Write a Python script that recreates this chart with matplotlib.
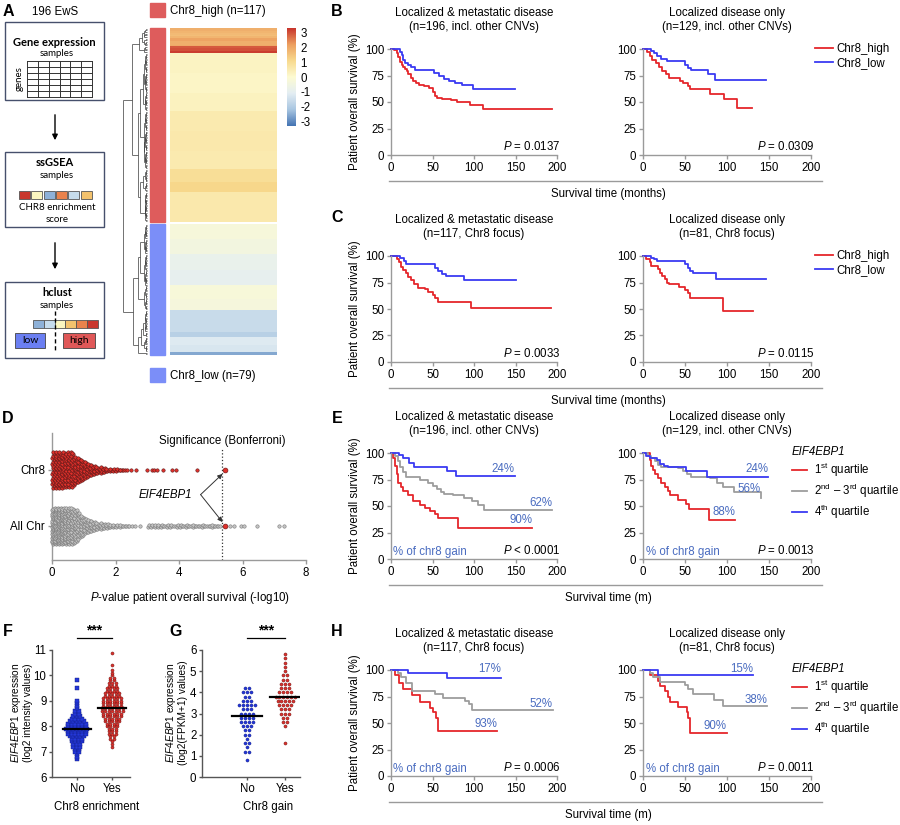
import numpy as np
import matplotlib
matplotlib.use("Agg")
import matplotlib.pyplot as plt
from matplotlib.lines import Line2D
from matplotlib.patches import Rectangle
from matplotlib.collections import LineCollection
from matplotlib.colors import LinearSegmentedColormap, Normalize

plt.rcParams['font.family'] = ['Liberation Sans', 'DejaVu Sans']
plt.rcParams['mathtext.fontset'] = 'custom'
plt.rcParams['mathtext.rm'] = 'Liberation Sans'
plt.rcParams['mathtext.it'] = 'Liberation Sans:italic'
plt.rcParams['mathtext.bf'] = 'Liberation Sans:bold'
plt.rcParams['font.size'] = 8.3

# ---------------- data ----------------
# A: chr8 enrichment score per sample (top -> bottom), read as bands from the heatmap
high_top_rows = [1.9, 1.9, 1.8, 1.7, 1.6, 1.8, 2.1, 2.1, 1.9, 1.9, 2.0, 2.9, 3.0, 3.0, 3.2]
high_band_values = [0.25, 0.2, 0.3, 0.55, 0.6, 0.55, 0.95, 1.15, 0.6]
high_band_sizes = [12, 12, 11, 12, 12, 11, 8, 6, 18]
low_band_values = [-0.3, -0.45, -0.85, -0.95, -0.25, -0.35, -1.6, -1.9, -1.2, -1.3, -2.6]
low_band_sizes = [9, 9, 10, 9, 8, 7, 13, 3, 5, 4, 2]
cbar_ticks = [3, 2, 1, 0, -1, -2, -3]

# B: Kaplan-Meier, all chr (event time, survival after event)
b1_high_t = [0, 4, 7, 9, 11, 13, 15, 17, 19, 21, 24, 27, 30, 34, 40, 46, 50, 53, 56, 62, 72, 79, 95, 111, 194]
b1_high_s = [100, 99, 96, 92, 88, 85, 83, 81, 79, 76, 73, 70, 68, 66, 65, 63, 59, 56, 54, 53, 52, 50, 47, 43, 43]
b1_low_t = [0, 11, 13, 15, 17, 20, 24, 29, 47, 52, 58, 64, 70, 77, 86, 99, 149]
b1_low_s = [100, 97, 94, 90, 87, 85, 83, 80, 80, 77, 75, 72, 70, 68, 66, 62, 62]
b2_high_t = [0, 5, 8, 11, 15, 19, 23, 27, 31, 44, 48, 53, 56, 80, 96, 112, 130]
b2_high_s = [100, 97, 93, 90, 87, 83, 79, 76, 73, 70, 68, 65, 62, 58, 53, 44, 44]
b2_low_t = [0, 9, 13, 17, 21, 28, 50, 53, 57, 77, 86, 147]
b2_low_s = [100, 98, 96, 93, 91, 89, 85, 82, 80, 76, 71, 71]
# C: Kaplan-Meier, chr8 focus
c1_high_t = [0, 7, 10, 12, 15, 18, 21, 24, 28, 33, 41, 45, 50, 53, 57, 96, 193]
c1_high_s = [100, 97, 94, 90, 87, 84, 80, 77, 74, 70, 69, 66, 63, 60, 57, 51, 51]
c1_low_t = [0, 11, 16, 18, 50, 53, 57, 61, 66, 88, 150]
c1_low_s = [100, 98, 95, 92, 92, 89, 86, 83, 81, 77, 77]
c2_high_t = [0, 4, 8, 10, 18, 20, 23, 26, 29, 31, 43, 50, 53, 56, 95, 131]
c2_high_s = [100, 97, 94, 91, 88, 84, 81, 78, 75, 74, 71, 68, 65, 60, 48, 48]
c2_low_t = [0, 10, 13, 17, 50, 53, 56, 59, 87, 147]
c2_low_s = [100, 98, 97, 95, 92, 89, 86, 84, 78, 78]
# E: EIF4EBP1 quartiles, all chr
e1_q1_t = [0, 3, 5, 7, 9, 12, 15, 20, 27, 35, 41, 47, 53, 57, 81, 170]
e1_q1_s = [100, 95, 88, 80, 72, 68, 64, 60, 55, 51, 48, 45, 42, 39, 29, 29]
e1_q23_t = [0, 5, 8, 11, 14, 18, 35, 45, 50, 55, 60, 64, 75, 88, 98, 105, 112, 194]
e1_q23_s = [100, 97, 92, 87, 82, 77, 75, 72, 69, 66, 63, 61, 60, 58, 55, 51, 46, 46]
e1_q4_t = [0, 10, 15, 22, 28, 53, 67, 78, 149]
e1_q4_s = [100, 98, 95, 91, 87, 87, 83, 78, 78]
e2_q1_t = [0, 8, 10, 12, 14, 18, 22, 26, 30, 32, 42, 51, 55, 79, 110]
e2_q1_s = [100, 93, 88, 84, 80, 76, 72, 68, 64, 60, 56, 52, 47, 37, 37]
e2_q23_t = [0, 6, 10, 14, 18, 22, 42, 48, 52, 57, 80, 88, 95, 108, 140]
e2_q23_s = [100, 97, 95, 92, 89, 87, 86, 83, 80, 77, 76, 72, 68, 63, 58]
e2_q4_t = [0, 4, 8, 17, 20, 25, 30, 51, 76, 149]
e2_q4_s = [100, 97, 95, 93, 90, 88, 87, 83, 77, 77]
# H: EIF4EBP1 quartiles, chr8 focus
h1_q1_t = [0, 5, 10, 15, 25, 35, 47, 50, 54, 57, 128]
h1_q1_s = [100, 95, 88, 82, 76, 70, 64, 60, 55, 42, 42]
h1_q23_t = [0, 8, 12, 18, 25, 53, 63, 89, 94, 98, 195]
h1_q23_s = [100, 97, 93, 88, 80, 77, 74, 71, 68, 62, 62]
h1_q4_t = [0, 20, 67, 133]
h1_q4_s = [100, 97, 92, 92]
h2_q1_t = [0, 8, 18, 20, 26, 30, 32, 42, 52, 54, 56, 100]
h2_q1_s = [100, 95, 90, 85, 80, 75, 70, 65, 60, 55, 41, 41]
h2_q23_t = [0, 8, 12, 20, 50, 54, 60, 85, 95, 148]
h2_q23_s = [100, 97, 93, 89, 86, 82, 77, 72, 66, 66]
h2_q4_t = [0, 18, 131]
h2_q4_s = [100, 95, 95]
# % of chr8 gain per quartile (q1, q2-3, q4)
e1_pct = ['90%', '62%', '24%']
e2_pct = ['88%', '56%', '24%']
h1_pct = ['93%', '52%', '17%']
h2_pct = ['90%', '38%', '15%']
e1_pct_y = [37, 53, 85]
e2_pct_y = [44, 66, 85]
h1_pct_y = [49, 68, 101]
h2_pct_y = [47.5, 72, 101]

# D: -log10 P distribution (counts per 0.1 bin, plus isolated genes)
chr8_bin_left = np.round(np.arange(0, 2.3, 0.1), 1)
chr8_counts = [30, 30, 30, 29, 28, 28, 27, 22, 20, 17, 14, 11, 9, 8, 7, 6, 5, 4, 4, 3, 3, 2, 2]
chr8_singles = [2.14, 2.35, 2.5, 2.66, 2.98, 3.14, 3.2, 3.3, 3.51, 3.77, 3.92, 4.56]
allchr_bin_left = np.round(np.arange(0, 5.3, 0.1), 1)
allchr_counts = [70, 65, 60, 55, 48, 40, 33,
                 26, 21, 17, 13, 11, 9, 8, 7, 6, 5, 5, 4, 4,
                 3, 3, 2, 2,
                 0, 0, 0, 0, 0, 0,
                 3, 3, 3, 3, 3, 2, 3, 3, 2, 3, 3, 2, 3, 2, 3, 2, 2, 3, 2, 2, 3, 2, 2]
allchr_singles = [2.42, 2.52, 2.62, 2.78, 5.62, 5.72, 5.95, 6.05, 6.45, 7.15, 7.3]
eif4ebp1_p = 5.45
bonferroni = 5.35

# F: EIF4EBP1 expression (log2 intensity), counts per 0.1 level
f_no_levels = np.round(np.arange(6.7, 9.85, 0.1), 1)
f_no_counts = [1, 1, 1, 2, 2, 3, 3, 4, 4, 5, 6, 6, 7, 6, 6, 5, 4, 3, 2, 2, 1, 1, 1, 1, 0, 0, 0, 0, 1, 0, 0, 1]
f_yes_levels = np.round(np.arange(7.2, 10.95, 0.1), 1)
f_yes_counts = [1, 1, 1, 2, 2, 3, 3, 3, 4, 4, 5, 5, 6, 6, 7, 7, 6, 6, 6, 6, 5, 5, 4, 4, 3, 3, 2, 2,
                1, 1, 1, 0, 1, 0, 0, 0, 0, 1]
# G: EIF4EBP1 expression (log2(FPKM+1)), counts per 0.2 level
g_no_levels = [0.8, 1.0, 1.2, 1.4, 1.6, 1.8, 2.0, 2.2, 2.4, 2.6, 2.8, 3.0, 3.2, 3.4, 3.6, 3.8, 4.0, 4.2]
g_no_counts = [1, 0, 2, 1, 2, 1, 2, 2, 3, 4, 4, 4, 3, 5, 3, 2, 3, 2]
g_yes_levels = [1.6, 2.4, 2.6, 2.8, 3.0, 3.2, 3.4, 3.6, 3.8, 4.0, 4.2, 4.4, 4.6, 4.8, 5.0, 5.2, 5.4, 5.6, 5.8]
g_yes_counts = [1, 1, 2, 2, 3, 3, 4, 5, 6, 4, 3, 3, 2, 2, 1, 1, 1, 1, 1]

# ---------------- helpers ----------------
W, H = 900, 825
fig = plt.figure(figsize=(9, 8.25), dpi=100)

RED, BLUE, GRAY = '#e5262b', '#3a3af2', '#9d9d9d'
PCT = '#4a6cc0'
SPINE = '#9a9a9a'


def px_axes(x0, y0, x1, y1):
    return fig.add_axes([x0 / W, 1 - y1 / H, (x1 - x0) / W, (y1 - y0) / H])


def ftext(x, y, s, **kw):
    kw.setdefault('ha', 'center')
    kw.setdefault('va', 'center')
    return fig.text(x / W, 1 - y / H, s, **kw)


def hline(x0, x1, y, **kw):
    fig.add_artist(Line2D([x0 / W, x1 / W], [1 - y / H] * 2, **kw))


def style_ax(ax, col=SPINE, length=3, pad=2):
    for side in ('top', 'right'):
        ax.spines[side].set_visible(False)
    for side in ('left', 'bottom'):
        ax.spines[side].set_color(col)
        ax.spines[side].set_linewidth(1)
    ax.tick_params(direction='out', length=length, width=1, color=col, labelsize=8.3, pad=pad)


ov = fig.add_axes([0, 0, 1, 1])
ov.set_xlim(0, W)
ov.set_ylim(H, 0)
ov.axis('off')

# ---------------- panel labels ----------------
for lab, x, y in [('A', 8, 12), ('B', 337, 12), ('C', 337, 218), ('D', 8, 418), ('E', 337, 418),
                  ('F', 8, 632), ('G', 176, 632), ('H', 337, 632)]:
    ftext(x, y, lab, fontsize=11.5, fontweight='bold')
ftext(32, 12, '196 EwS', ha='left', fontsize=8.3)

# ---------------- A: workflow boxes ----------------
BOXF = 'Lato'
box_ec = '#46506c'
for y0, y1 in [(22, 100), (152, 227), (282, 358)]:
    ov.add_patch(Rectangle((5, y0), 99, y1 - y0, fill=False, ec=box_ec, lw=1))
ov.text(54, 42, 'Gene expression', ha='center', va='center', fontsize=8, fontweight='bold', family=BOXF)
ov.text(57, 54, 'samples', ha='center', va='center', fontsize=7, family=BOXF)
for k in range(7):
    ov.plot([27 + k * 65 / 6] * 2, [61, 97], color='#333', lw=0.7)
    ov.plot([27, 92], [61 + k * 36 / 6] * 2, color='#333', lw=0.7)
ov.text(19, 79, 'genes', rotation=90, ha='center', va='center', fontsize=7, family=BOXF)
ov.text(55, 163, 'ssGSEA', ha='center', va='center', fontsize=8, fontweight='bold', family=BOXF)
ov.text(57, 176, 'samples', ha='center', va='center', fontsize=7, family=BOXF)
for k, c in enumerate(['#c8372d', '#fbf6c0', '#8eb1d8', '#e9824c', '#c6dced', '#f3c26d']):
    ov.add_patch(Rectangle((19 + k * 12.3, 191), 11, 8, fc=c, ec='#555', lw=0.6))
ov.text(57, 208, 'CHR8 enrichment', ha='center', va='center', fontsize=7, family=BOXF)
ov.text(57, 220, 'score', ha='center', va='center', fontsize=7, family=BOXF)
ov.text(57, 293, 'hclust', ha='center', va='center', fontsize=8, fontweight='bold', family=BOXF)
ov.text(57, 305, 'samples', ha='center', va='center', fontsize=7, family=BOXF)
for k, c in enumerate(['#8eb1d8', '#c6dced', '#fbf6c0', '#f3c26d', '#e9824c', '#c8372d']):
    ov.add_patch(Rectangle((33 + k * 10.8, 320), 10.8, 8, fc=c, ec='#555', lw=0.6))
ov.plot([55, 55], [311, 352], color='k', lw=1, ls=(0, (3, 2)))
ov.add_patch(Rectangle((15, 333), 30, 15, fc='#6b7ff2', ec='#444', lw=0.6))
ov.text(30, 340.5, 'low', ha='center', va='center', fontsize=7.5, family=BOXF)
ov.add_patch(Rectangle((63, 333), 32, 15, fc='#e05858', ec='#444', lw=0.6))
ov.text(79, 340.5, 'high', ha='center', va='center', fontsize=7.5, family=BOXF)
for y0, y1 in [(112, 143), (240, 272)]:
    ov.annotate('', xy=(55, y1), xytext=(55, y0),
                arrowprops=dict(arrowstyle='-|>', color='k', lw=1, mutation_scale=8))

# ---------------- A: heatmap + dendrogram ----------------
high_scores = np.concatenate([high_top_rows, np.repeat(high_band_values, high_band_sizes)])
low_scores = np.repeat(low_band_values, low_band_sizes)
cmap = LinearSegmentedColormap.from_list('chr8', [(0, '#4575b4'), (1 / 6, '#a9c6e1'), (2 / 6, '#e4eef3'),
                                                  (3 / 6, '#fdfbd2'), (4 / 6, '#f8da8e'),
                                                  (5 / 6, '#eda060'), (1, '#c8352c')])
norm = Normalize(-3.3, 3.3)
for scores, (y0, y1) in [(high_scores, (28, 222)), (low_scores, (224, 355))]:
    axh = px_axes(170, y0, 277, y1)
    axh.imshow(scores[:, None], aspect='auto', cmap=cmap, norm=norm, interpolation='nearest')
    axh.axis('off')

ov.add_patch(Rectangle((150, 28), 15, 194, color='#de5c5c'))
ov.add_patch(Rectangle((150, 224), 15, 131, color='#7b8ef8'))
ov.add_patch(Rectangle((150, 3), 15, 14, color='#de5c5c'))
ov.add_patch(Rectangle((150, 368), 15, 14, color='#7b8ef8'))
ftext(170, 11, 'Chr8_high (n=117)', ha='left', fontsize=8.3)
ftext(170, 376, 'Chr8_low (n=79)', ha='left', fontsize=8.3)

axcb = px_axes(287, 28, 296, 126)
axcb.imshow(np.linspace(3.3, -3.3, 200)[:, None], aspect='auto', cmap=cmap, norm=norm,
            extent=[0, 1, -3.3, 3.3])
axcb.set_xticks([])
axcb.yaxis.tick_right()
axcb.set_yticks(cbar_ticks)
axcb.set_yticklabels([str(v) for v in cbar_ticks])
axcb.tick_params(length=0, labelsize=8.3, pad=3)
for s in axcb.spines.values():
    s.set_visible(False)


def adjacent_tree(vals, ypos):
    nodes = [[y, 0.0, 1, v] for y, v in zip(ypos, vals)]
    segs = []
    while len(nodes) > 1:
        hs = []
        for a, b in zip(nodes[:-1], nodes[1:]):
            d = abs(a[3] - b[3]) * np.sqrt(2 * a[2] * b[2] / (a[2] + b[2]))
            hs.append(max(a[1], b[1]) + d + 0.05)
        i = int(np.argmin(hs))
        h = hs[i]
        a, b = nodes[i], nodes[i + 1]
        segs += [[(a[1], a[0]), (h, a[0])], [(b[1], b[0]), (h, b[0])], [(h, a[0]), (h, b[0])]]
        n = a[2] + b[2]
        nodes[i:i + 2] = [[(a[0] + b[0]) / 2, h, n, (a[3] * a[2] + b[3] * b[2]) / n]]
    return nodes[0], segs


y_high = 28 + (np.arange(len(high_scores)) + 0.5) * 194 / len(high_scores)
y_low = 224 + (np.arange(len(low_scores)) + 0.5) * 131 / len(low_scores)
rh, seg_h = adjacent_tree(high_scores, y_high)
rl, seg_l = adjacent_tree(low_scores, y_low)
n_tot = rh[2] + rl[2]
root_h = max(rh[1], rl[1]) + abs(rh[3] - rl[3]) * np.sqrt(2 * rh[2] * rl[2] / n_tot) + 4
segs = seg_h + seg_l + [[(rh[1], rh[0]), (root_h, rh[0])], [(rl[1], rl[0]), (root_h, rl[0])],
                        [(root_h, rh[0]), (root_h, rl[0])]]
segs_px = [[(147 - 24 * np.sqrt(h / root_h), y) for h, y in s] for s in segs]
ov.add_collection(LineCollection(segs_px, colors='#3a3a3a', linewidths=0.5))

# ---------------- B, C, E, H: Kaplan-Meier ----------------
def km(rect, curves, ptext):
    ax = px_axes(*rect)
    for t, s, c, lab in curves:
        ax.step(t, s, where='post', color=c, lw=1.3, label=lab, clip_on=False)
    ax.set_xlim(0, 200)
    ax.set_ylim(0, 100)
    ax.set_xticks([0, 50, 100, 150, 200])
    ax.set_yticks([0, 25, 50, 75, 100])
    style_ax(ax)
    ax.text(204, 8, ptext, ha='right', va='center', fontsize=8.3)
    return ax


def pct_labels(ax, curves, pcts, ys):
    for (t, s, c, lab), p, y in zip(curves, pcts, ys):
        ax.text(t[-1], y, p, ha='right', va='center', color=PCT, fontsize=8.3)
    ax.text(3, 7, '% of chr8 gain', ha='left', va='center', color=PCT, fontsize=8.3)


title_all = 'Localized & metastatic disease\n'
title_loc = 'Localized disease only\n'
rows = [
    (0, '(n=196, incl. other CNVs)', '(n=129, incl. other CNVs)', 'Survival time (months)'),
    (207, '(n=117, Chr8 focus)', '(n=81, Chr8 focus)', 'Survival time (months)'),
    (404, '(n=196, incl. other CNVs)', '(n=129, incl. other CNVs)', 'Survival time (m)'),
    (621, '(n=117, Chr8 focus)', '(n=81, Chr8 focus)', 'Survival time (m)'),
]
q_labels = ['1$^{\\mathrm{st}}$ quartile', '2$^{\\mathrm{nd}}$ \u2013 3$^{\\mathrm{rd}}$ quartile',
            '4$^{\\mathrm{th}}$ quartile']
km_sets = [
    ([(b1_high_t, b1_high_s, RED, 'Chr8_high'), (b1_low_t, b1_low_s, BLUE, 'Chr8_low')],
     [(b2_high_t, b2_high_s, RED, 'Chr8_high'), (b2_low_t, b2_low_s, BLUE, 'Chr8_low')],
     '0.0137', '0.0309', None),
    ([(c1_high_t, c1_high_s, RED, 'Chr8_high'), (c1_low_t, c1_low_s, BLUE, 'Chr8_low')],
     [(c2_high_t, c2_high_s, RED, 'Chr8_high'), (c2_low_t, c2_low_s, BLUE, 'Chr8_low')],
     '0.0033', '0.0115', None),
    ([(e1_q1_t, e1_q1_s, RED, q_labels[0]), (e1_q23_t, e1_q23_s, GRAY, q_labels[1]),
      (e1_q4_t, e1_q4_s, BLUE, q_labels[2])],
     [(e2_q1_t, e2_q1_s, RED, q_labels[0]), (e2_q23_t, e2_q23_s, GRAY, q_labels[1]),
      (e2_q4_t, e2_q4_s, BLUE, q_labels[2])],
     '< 0.0001', '0.0013', ((e1_pct, e1_pct_y), (e2_pct, e2_pct_y))),
    ([(h1_q1_t, h1_q1_s, RED, q_labels[0]), (h1_q23_t, h1_q23_s, GRAY, q_labels[1]),
      (h1_q4_t, h1_q4_s, BLUE, q_labels[2])],
     [(h2_q1_t, h2_q1_s, RED, q_labels[0]), (h2_q23_t, h2_q23_s, GRAY, q_labels[1]),
      (h2_q4_t, h2_q4_s, BLUE, q_labels[2])],
     '0.0006', '0.0011', ((h1_pct, h1_pct_y), (h2_pct, h2_pct_y))),
]
for (off, sub_l, sub_r, xlab), (cl, cr, pl, pr, pcts) in zip(rows, km_sets):
    fmt = lambda p: '$\\mathit{P}$ < 0.0001' if p.startswith('<') else '$\\mathit{P}$ = ' + p
    axl = km((391, 49 + off, 557, 155 + off), cl, fmt(pl))
    axr = km((643, 49 + off, 811, 155 + off), cr, fmt(pr))
    ftext(474, 20 + off, title_all + sub_l, linespacing=1.25)
    ftext(727, 20 + off, title_loc + sub_r, linespacing=1.25)
    ftext(355, 102 + off, 'Patient overall survival (%)', rotation=90)
    hline(389, 822, 181 + off, color=SPINE, lw=1)
    ftext(608, 194 + off, xlab)
    if pcts is None:
        axr.legend(loc='upper left', bbox_to_anchor=(815 / W, 1 - (43 + off) / H),
                   bbox_transform=fig.transFigure, frameon=False, fontsize=8.3,
                   handlelength=1.6, handletextpad=0.25, labelspacing=0.2, borderpad=0, borderaxespad=0)
    else:
        pct_labels(axl, cl, *pcts[0])
        pct_labels(axr, cr, *pcts[1])
        axr.legend(loc='upper left', bbox_to_anchor=(792 / W, 1 - (446 + off - 404) / H),
                   bbox_transform=fig.transFigure, frameon=False, fontsize=8.3,
                   title='EIF4EBP1', title_fontproperties={'style': 'italic', 'size': 8.3},
                   alignment='left', handlelength=1.3, handletextpad=0.6, labelspacing=0.25,
                   borderpad=0, borderaxespad=0)

# ---------------- D: beeswarm of P-values ----------------
axd = px_axes(52, 433, 306, 560)
axd.set_xlim(0, 8)
axd.set_ylim(-0.607, 1.66)


def swarm(ax, bin_left, counts, singles, yc, fc, ec):
    xs, ys = [], []
    for lo, n in zip(bin_left, counts):
        if n == 0:
            continue
        hh = min(0.32, max(0, n - 2) * 0.012)
        k = np.arange(n)
        xs.extend(lo + 0.1 * ((k * 0.618 + 0.3) % 1))
        ys.extend(yc + np.linspace(-hh, hh, n) if n > 1 else [yc])
    xs.extend(singles)
    ys.extend([yc] * len(singles))
    ax.scatter(xs, ys, s=6, fc=fc, ec=ec, lw=0.4, clip_on=False, zorder=3)


swarm(axd, allchr_bin_left, allchr_counts, allchr_singles, 0, '#c4c4c4', '#7a7a7a')
swarm(axd, chr8_bin_left, chr8_counts, chr8_singles, 1, '#e0302a', '#5c1a1a')
axd.scatter([eif4ebp1_p, eif4ebp1_p], [1, 0], s=12, fc='#e0302a', ec='#7a1a1a', lw=0.5, zorder=4)
axd.axvline(bonferroni, ymin=0, ymax=0.88, color='#333', lw=0.9, ls=':')
axd.set_yticks([1, 0])
axd.set_yticklabels(['Chr8', 'All Chr'])
axd.set_xticks([0, 2, 4, 6, 8])
style_ax(axd)
ftext(222, 441, 'Significance (Bonferroni)')
axd.text(3.56, 0.55, 'EIF4EBP1', style='italic', ha='center', va='center', fontsize=8.3)
for ty in (0.93, 0.07):
    axd.annotate('', xy=(eif4ebp1_p - 0.08, ty), xytext=(4.68, 0.56),
                 arrowprops=dict(arrowstyle='-|>', color='#333', lw=0.7, mutation_scale=7,
                                 shrinkA=0, shrinkB=0))
ftext(190, 598, '$\\mathit{P}$-value patient overall survival (-log10)')

# ---------------- F, G: expression dot plots ----------------
def dot_column(ax, xc, levels, counts, step, fc, ec, marker):
    xs, ys = [], []
    for yv, n in zip(levels, counts):
        xs.extend(xc + (np.arange(n) - (n - 1) / 2) * step)
        ys.extend([yv] * n)
    ax.scatter(xs, ys, s=5, marker=marker, fc=fc, ec=ec, lw=0.3, clip_on=False, zorder=3)
    med = np.median(np.repeat(levels, counts))
    ax.plot([xc - 0.4, xc + 0.4], [med, med], color='k', lw=1.6, zorder=4)


FBLUE, FRED = '#2438d8', '#d9342f'
axf = px_axes(52, 650, 130, 777)
dot_column(axf, 0, f_no_levels, f_no_counts, 0.1, FBLUE, '#101a80', 's')
dot_column(axf, 1, f_yes_levels, f_yes_counts, 0.1, FRED, '#6a1010', 'o')
axf.set_xlim(-0.714, 1.514)
axf.set_ylim(6, 11)
axf.set_yticks([6, 7, 8, 9, 10, 11])
axf.set_xticks([0, 1])
axf.set_xticklabels(['No', 'Yes'])
style_ax(axf, '#555555', length=2.5, pad=1.5)
axf.plot([0, 1], [11.47, 11.47], color='k', lw=0.9, clip_on=False)
axf.text(0.5, 11.75, '***', ha='center', va='center', fontsize=10, fontweight='bold')
ftext(97, 807, 'Chr8 enrichment')
ftext(21, 713, '$\\mathit{EIF4EBP1}$ expression\n(log2 intensity values)', rotation=90,
      linespacing=1.05, fontsize=7.3)

axg = px_axes(202, 650, 300, 777)
dot_column(axg, 0, g_no_levels, g_no_counts, 0.1, FBLUE, '#101a80', 'o')
dot_column(axg, 1, g_yes_levels, g_yes_counts, 0.1, FRED, '#6a1010', 'o')
axg.set_xlim(-1.18, 1.39)
axg.set_ylim(0, 6)
axg.set_yticks([0, 1, 2, 3, 4, 5, 6])
axg.set_xticks([0, 1])
axg.set_xticklabels(['No', 'Yes'])
style_ax(axg, '#555555', length=2.5, pad=1.5)
axg.plot([0, 1], [6.57, 6.57], color='k', lw=0.9, clip_on=False)
axg.text(0.5, 6.9, '***', ha='center', va='center', fontsize=10, fontweight='bold')
ftext(268, 807, 'Chr8 gain')
ftext(176, 713, '$\\mathit{EIF4EBP1}$ expression\n(log2(FPKM+1) values)', rotation=90,
      linespacing=1.05, fontsize=7.3)

fig.savefig('out.png', dpi=100)
